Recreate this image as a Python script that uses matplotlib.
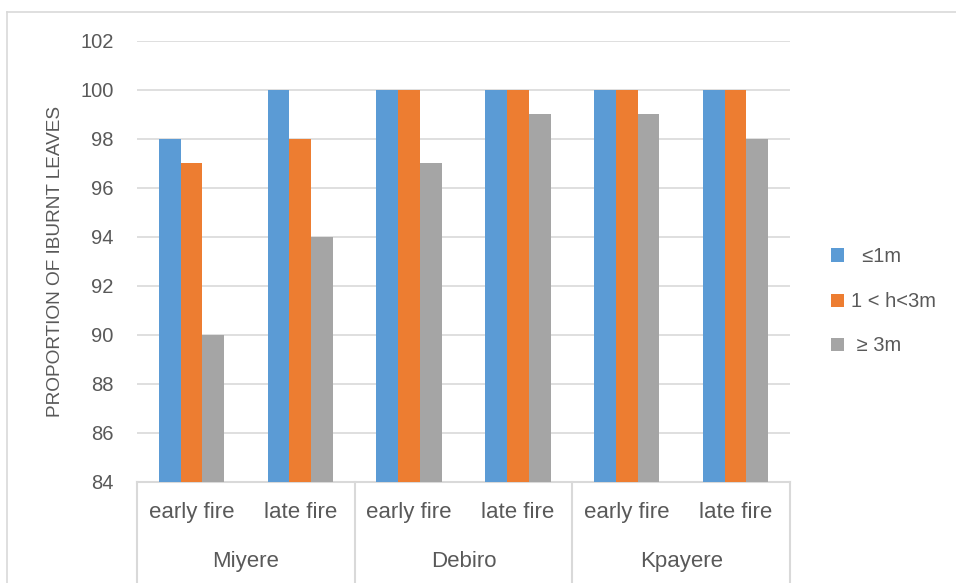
import matplotlib
matplotlib.use("Agg")
import matplotlib.pyplot as plt
import matplotlib.transforms as mtransforms
from matplotlib.patches import Rectangle
from matplotlib.lines import Line2D
import numpy as np

plt.rcParams['font.family'] = ['Liberation Sans', 'DejaVu Sans']

# Data
sites = ["Miyere", "Debiro", "Kpayere"]
treatments = ["early fire", "late fire"]
series_names = ["  \u22641m", "1 < h<3m", " \u2265 3m"]
small_trees = [98, 100, 100, 100, 100, 100]    # <= 1 m
medium_trees = [97, 98, 100, 100, 100, 100]    # 1 < h < 3 m
tall_trees = [90, 94, 97, 99, 99, 98]          # >= 3 m
y_ticks = [84, 86, 88, 90, 92, 94, 96, 98, 100, 102]
y_label = "PROPORTION OF IBURNT LEAVES"

colors = ["#5B9BD5", "#ED7D31", "#A5A5A5"]
text_color = "#595959"
line_color = "#D9D9D9"

W, H = 956, 583
fig = plt.figure(figsize=(W / 100, H / 100), dpi=100)
fig.patch.set_facecolor("white")

# outer chart frame (top and left edges visible)
fig.add_artist(Line2D([7 / W, 7 / W], [0, 1 - 12 / H], transform=fig.transFigure,
                      color=line_color, lw=1.2))
fig.add_artist(Line2D([7 / W, 1], [1 - 12 / H, 1 - 12 / H], transform=fig.transFigure,
                      color=line_color, lw=1.2))

left, right, top, bottom = 137, 790, 41, 482
ax = fig.add_axes([left / W, 1 - bottom / H, (right - left) / W, (bottom - top) / H])

n = len(small_trees)
x = np.arange(n)
width = 0.2
base = y_ticks[0]
for i, (vals, col) in enumerate(zip([small_trees, medium_trees, tall_trees], colors)):
    v = np.array(vals, dtype=float)
    ax.bar(x + (i - 1) * width, v - base, width=width, bottom=base, color=col,
           edgecolor="none", zorder=3)

ax.set_xlim(-0.5, n - 0.5)
ax.set_ylim(y_ticks[0], y_ticks[-1])
ax.set_yticks(y_ticks)
ax.set_yticklabels([str(t) for t in y_ticks], fontsize=14.5, color=text_color)
ax.tick_params(axis="y", length=0, pad=17)
ax.set_xticks([])
ax.grid(axis="y", color=line_color, lw=1.2, zorder=0)
for s in ["left", "right", "top"]:
    ax.spines[s].set_visible(False)
ax.spines["bottom"].set_color(line_color)
ax.spines["bottom"].set_linewidth(1.5)

# multi-level category axis
trans = mtransforms.blended_transform_factory(ax.transData, fig.transFigure)
for k in range(n):
    ax.text(k, 1 - 518 / H, treatments[k % 2], transform=trans, ha="center",
            va="baseline", fontsize=16, color=text_color)
for g, site in enumerate(sites):
    ax.text(2 * g + 0.5, 1 - 567 / H, site, transform=trans, ha="center",
            va="baseline", fontsize=16, color=text_color)
for b in [-0.5, 1.5, 3.5, 5.5]:
    ax.add_artist(Line2D([b, b], [0, 1 - bottom / H], transform=trans,
                         color=line_color, lw=1.5, clip_on=False))

fig.text(56 / W, 1 - 261 / H, y_label, rotation=90, ha="center", va="center",
         fontsize=13.7, color=text_color)

# legend
legend_rows = [255, 300, 344]
for name, col, cy in zip(series_names, colors, legend_rows):
    fig.add_artist(Rectangle((831 / W, 1 - (cy + 6.5) / H), 13 / W, 13 / H,
                             transform=fig.transFigure, facecolor=col,
                             edgecolor="none"))
    fig.text(851 / W, 1 - (cy + 7) / H, name, ha="left", va="baseline",
             fontsize=14.5, color=text_color)

fig.savefig("out.png", dpi=100, facecolor="white")
